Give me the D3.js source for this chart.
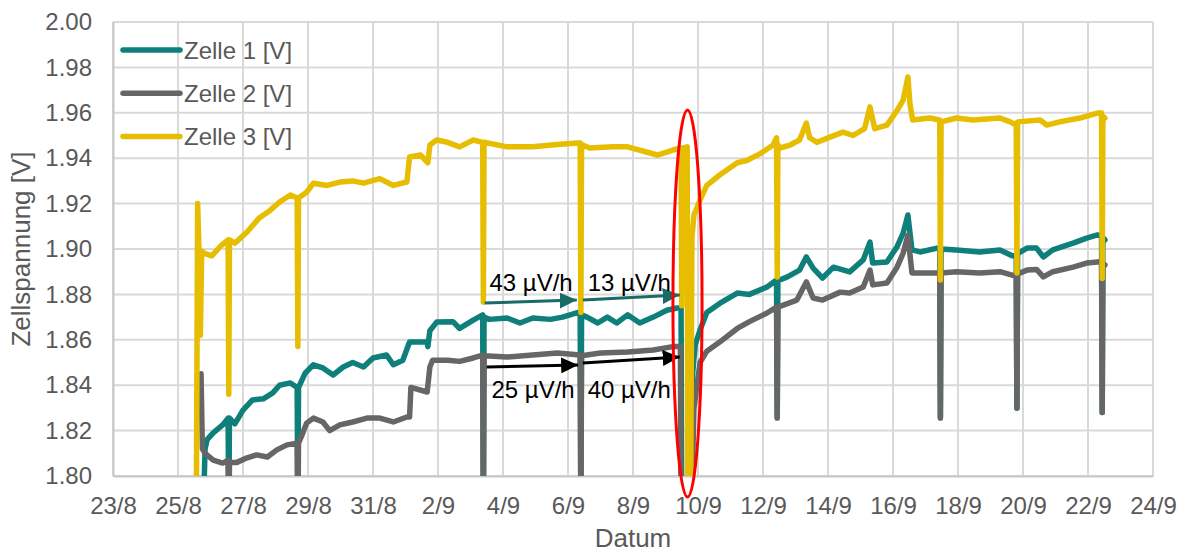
<!DOCTYPE html>
<html>
<head>
<meta charset="utf-8">
<script src="https://cdn.jsdelivr.net/npm/d3@7"></script>
<style>
  body { margin: 0; background: #fff; }
  text { font-family: "Liberation Sans", Arial, sans-serif; }
</style>
</head>
<body>
<svg id="chart" width="1194" height="553"></svg>
<script>
// ---- data: [timestamp "d/m HH:MM", cell voltage in V] ----
const zelle1 = [
  ["25/8 18:30",1.78],["25/8 20:00",1.812],["25/8 21:30",1.816],["26/8 02:00",1.819],["26/8 09:00",1.8225],
  ["26/8 13:00",1.8255],["26/8 13:30",1.78],["26/8 14:00",1.8255],["26/8 18:00",1.823],["27/8 00:00",1.829],
  ["27/8 07:00",1.8335],["27/8 15:00",1.834],["27/8 22:00",1.8366],["28/8 03:00",1.840],["28/8 11:00",1.841],
  ["28/8 16:00",1.839],["28/8 16:30",1.78],["28/8 17:00",1.839],["28/8 22:00",1.8454],["29/8 04:00",1.849],
  ["29/8 11:00",1.8476],["29/8 18:30",1.8445],["30/8 02:00",1.848],["30/8 09:00",1.850],["30/8 17:00",1.848],
  ["31/8 00:00",1.852],["31/8 10:00",1.8533],["31/8 15:00",1.849],["31/8 22:00",1.851],["1/9 03:00",1.859],
  ["1/9 16:00",1.859],["1/9 16:30",1.857],["1/9 18:00",1.864],["1/9 23:00",1.8678],["2/9 11:00",1.868],
  ["2/9 16:00",1.865],["3/9 02:00",1.8687],["3/9 09:00",1.871],["3/9 09:30",1.78],["3/9 10:00",1.870],
  ["3/9 14:00",1.869],["4/9 03:00",1.8696],["4/9 12:30",1.8674],["4/9 22:00",1.8696],["5/9 11:00",1.869],
  ["5/9 20:00",1.870],["6/9 07:00",1.872],["6/9 09:00",1.872],["6/9 09:30",1.78],["6/9 10:00",1.871],
  ["6/9 14:00",1.870],["6/9 22:00",1.8674],["7/9 05:00",1.870],["7/9 12:00",1.8674],["7/9 20:00",1.871],
  ["8/9 05:00",1.8674],["8/9 15:00",1.870],["9/9 01:00",1.873],["9/9 08:30",1.874],["9/9 11:30",1.874],
  ["9/9 12:00",1.78],["9/9 19:00",1.78],["9/9 20:00",1.845],["9/9 22:00",1.858],["10/9 01:30",1.8643],
  ["10/9 06:30",1.872],["10/9 16:00",1.876],["11/9 05:00",1.8806],["11/9 14:00",1.880],["12/9 03:00",1.8833],
  ["12/9 10:00",1.8863],["12/9 10:30",1.826],["12/9 11:00",1.886],["12/9 18:00",1.8877],["13/9 03:00",1.8907],
  ["13/9 08:00",1.8965],["13/9 13:00",1.8916],["13/9 20:00",1.8872],["14/9 04:00",1.892],["14/9 16:00",1.8899],
  ["15/9 02:00",1.8952],["15/9 07:00",1.903],["15/9 09:00",1.8938],["15/9 19:30",1.8943],["16/9 03:00",1.901],
  ["16/9 07:30",1.907],["16/9 11:00",1.915],["16/9 14:00",1.8996],["16/9 20:00",1.8987],["17/9 08:30",1.9004],
  ["17/9 10:30",1.900],["17/9 11:00",1.826],["17/9 11:30",1.900],["17/9 23:00",1.8996],["18/9 16:00",1.8987],
  ["19/9 07:00",1.8996],["19/9 16:00",1.897],["19/9 19:00",1.897],["19/9 19:30",1.830],["19/9 20:00",1.898],
  ["20/9 03:00",1.9004],["20/9 10:00",1.9004],["20/9 15:00",1.8965],["20/9 22:00",1.8996],["21/9 13:00",1.9026],
  ["21/9 23:00",1.9048],["22/9 07:00",1.9062],["22/9 10:00",1.906],["22/9 10:30",1.828],["22/9 11:00",1.905],
  ["22/9 12:30",1.904]
];

const zelle2 = [
  ["25/8 17:00",1.845],["25/8 18:00",1.812],["25/8 20:00",1.810],["26/8 02:00",1.807],["26/8 09:00",1.8057],
  ["26/8 13:00",1.807],["26/8 13:30",1.78],["26/8 14:00",1.806],["26/8 19:30",1.806],["27/8 03:00",1.808],
  ["27/8 10:00",1.8093],["27/8 18:00",1.8084],["28/8 01:00",1.8115],["28/8 08:30",1.8137],["28/8 16:00",1.8145],
  ["28/8 16:30",1.78],["28/8 17:00",1.8145],["28/8 19:30",1.818],["28/8 23:00",1.8233],["29/8 04:00",1.8255],
  ["29/8 11:00",1.8238],["29/8 16:00",1.820],["29/8 23:30",1.8225],["30/8 09:00",1.8238],["30/8 19:30",1.8255],
  ["31/8 05:00",1.8255],["31/8 15:00",1.8238],["1/9 01:00",1.826],["1/9 03:00",1.826],["1/9 04:00",1.839],
  ["1/9 16:00",1.837],["1/9 18:00",1.848],["1/9 20:00",1.851],["2/9 07:00",1.851],["2/9 16:00",1.8505],
  ["3/9 02:00",1.852],["3/9 09:00",1.8533],["3/9 09:30",1.78],["3/9 10:00",1.853],["4/9 03:00",1.8524],
  ["4/9 22:00",1.8533],["5/9 16:00",1.8542],["6/9 09:00",1.8533],["6/9 09:30",1.78],["6/9 10:00",1.853],
  ["7/9 00:00",1.8542],["7/9 20:00",1.8546],["8/9 15:00",1.8555],["9/9 05:30",1.857],["9/9 11:00",1.857],
  ["9/9 11:30",1.78],["9/9 19:00",1.78],["9/9 21:00",1.830],["10/9 01:30",1.850],["10/9 06:30",1.855],
  ["10/9 16:00",1.859],["11/9 05:00",1.865],["11/9 14:00",1.868],["12/9 03:00",1.8718],["12/9 10:00",1.8744],
  ["12/9 10:30",1.8255],["12/9 11:00",1.8744],["13/9 01:00",1.8775],["13/9 08:00",1.8855],["13/9 13:00",1.8784],
  ["13/9 20:00",1.8775],["14/9 09:00",1.881],["14/9 16:00",1.8806],["15/9 02:00",1.8833],["15/9 07:00",1.8907],
  ["15/9 09:00",1.8842],["15/9 19:30",1.885],["16/9 03:00",1.892],["16/9 07:30",1.8982],["16/9 11:00",1.906],
  ["16/9 14:00",1.8894],["17/9 01:00",1.8894],["17/9 10:30",1.8894],["17/9 11:00",1.8255],["17/9 11:30",1.8894],
  ["17/9 23:00",1.890],["18/9 16:00",1.8894],["19/9 07:00",1.890],["19/9 16:00",1.8885],["19/9 19:00",1.888],
  ["19/9 19:30",1.8298],["19/9 20:00",1.889],["20/9 03:00",1.8907],["20/9 10:00",1.891],["20/9 15:00",1.8877],
  ["20/9 22:00",1.890],["21/9 13:00",1.892],["21/9 23:00",1.8938],["22/9 07:00",1.8943],["22/9 10:00",1.8945],
  ["22/9 10:30",1.828],["22/9 11:00",1.8935],["22/9 12:30",1.893]
];

const zelle3 = [
  ["25/8 13:30",1.78],["25/8 14:30",1.92],["25/8 15:30",1.90],["25/8 16:30",1.862],["25/8 17:30",1.899],
  ["25/8 20:00",1.898],["26/8 01:00",1.897],["26/8 07:00",1.901],["26/8 13:00",1.904],["26/8 13:30",1.836],
  ["26/8 14:00",1.904],["26/8 18:00",1.9026],["27/8 03:00",1.9075],["27/8 12:00",1.9137],["27/8 20:00",1.917],
  ["28/8 03:00",1.9207],["28/8 11:00",1.9238],["28/8 16:00",1.9225],["28/8 16:30",1.857],["28/8 17:00",1.9225],
  ["28/8 23:00",1.925],["29/8 04:00",1.929],["29/8 14:00",1.928],["29/8 23:30",1.9295],["30/8 09:00",1.930],
  ["30/8 17:00",1.929],["31/8 05:00",1.931],["31/8 15:00",1.928],["1/9 01:00",1.9295],["1/9 03:00",1.9405],
  ["1/9 11:00",1.9414],["1/9 16:30",1.938],["1/9 18:00",1.9458],["1/9 23:00",1.948],["2/9 07:00",1.947],
  ["2/9 16:00",1.945],["3/9 02:00",1.948],["3/9 09:00",1.947],["3/9 09:30",1.8766],["3/9 10:00",1.947],
  ["4/9 03:00",1.945],["4/9 22:00",1.945],["5/9 16:00",1.946],["6/9 07:00",1.9467],["6/9 09:00",1.9467],
  ["6/9 09:30",1.872],["6/9 10:00",1.946],["6/9 16:00",1.9445],["7/9 09:00",1.945],["7/9 20:00",1.945],
  ["8/9 18:00",1.9414],["9/9 05:30",1.9436],["9/9 11:30",1.9445],["9/9 12:00",1.875],["9/9 13:00",1.9445],
  ["9/9 16:00",1.945],["9/9 16:30",1.78],["9/9 18:30",1.78],["9/9 19:30",1.905],["9/9 21:00",1.915],
  ["10/9 01:30",1.9216],["10/9 06:30",1.928],["10/9 16:00",1.9326],["11/9 05:00",1.938],["11/9 12:00",1.939],
  ["11/9 22:00",1.942],["12/9 07:30",1.9458],["12/9 10:00",1.949],["12/9 10:30",1.8877],["12/9 11:00",1.946],
  ["12/9 12:30",1.9445],["12/9 20:00",1.9458],["13/9 03:00",1.948],["13/9 08:00",1.9555],["13/9 10:30",1.949],
  ["13/9 16:00",1.947],["14/9 01:30",1.9493],["14/9 11:00",1.9515],["14/9 18:30",1.950],["15/9 03:00",1.953],
  ["15/9 07:00",1.9626],["15/9 10:30",1.953],["15/9 19:30",1.9546],["16/9 03:00",1.961],["16/9 07:30",1.9656],
  ["16/9 11:00",1.9758],["16/9 12:30",1.964],["16/9 14:30",1.9568],["17/9 03:00",1.9577],["17/9 10:30",1.9568],
  ["17/9 11:00",1.8863],["17/9 11:30",1.956],["17/9 23:00",1.9577],["18/9 11:00",1.9568],["19/9 07:00",1.9577],
  ["19/9 14:30",1.956],["19/9 19:00",1.9546],["19/9 19:30",1.8894],["19/9 20:00",1.956],["20/9 12:30",1.9568],
  ["20/9 17:30",1.9546],["21/9 03:00",1.956],["21/9 18:00",1.9577],["22/9 07:00",1.9599],["22/9 10:00",1.9599],
  ["22/9 10:30",1.887],["22/9 11:00",1.9585],["22/9 12:30",1.9577]
];

const seriesNames = ["Zelle 1 [V]", "Zelle 2 [V]", "Zelle 3 [V]"];
const seriesColors = ["#0e7f7a", "#666666", "#e6bd00"];

const xTickLabels = ["23/8","25/8","27/8","29/8","31/8","2/9","4/9","6/9","8/9","10/9",
                     "12/9","14/9","16/9","18/9","20/9","22/9","24/9"];
const yTickValues = [1.80,1.82,1.84,1.86,1.88,1.90,1.92,1.94,1.96,1.98,2.00];

// drift arrows with their rate labels
const driftArrows = [
  { from: ["3/9 10:30",1.8762], to: ["6/9 06:30",1.8775], color: "#1a6b67" },
  { from: ["6/9 11:00",1.8775], to: ["9/9 10:30",1.8797], color: "#1a6b67" },
  { from: ["3/9 12:00",1.8480], to: ["6/9 07:30",1.8489], color: "#000000" },
  { from: ["6/9 11:00",1.8498], to: ["9/9 10:30",1.8524], color: "#000000" }
];
const driftLabels = [
  { at: ["3/9 14:00",1.8815], text: "43 µV/h" },
  { at: ["6/9 14:30",1.8815], text: "13 µV/h" },
  { at: ["3/9 15:30",1.8344], text: "25 µV/h" },
  { at: ["6/9 14:30",1.8344], text: "40 µV/h" }
];
// highlighted interruption on 9/9 – 10/9
const highlight = { t0: "9/9 05:30", t1: "10/9 03:00", v0: 1.7907, v1: 1.9612 };

// ---- layout ----
const W = 1194, H = 553;
const plot = { left: 113, right: 1153, top: 22, bottom: 476 };
const textColor = "#595959";

const parse = d3.timeParse("%d/%m %H:%M");
const tickDate = s => parse(s + " 00:00");

const x = d3.scaleTime()
  .domain([tickDate("23/8"), tickDate("24/9")])
  .range([plot.left, plot.right]);
const y = d3.scaleLinear()
  .domain([1.80, 2.00])
  .range([plot.bottom, plot.top]);

const svg = d3.select("#chart").attr("width", W).attr("height", H);

// gridlines
const grid = svg.append("g");
grid.selectAll("line.h").data(yTickValues).join("line")
  .attr("x1", plot.left).attr("x2", plot.right)
  .attr("y1", d => y(d)).attr("y2", d => y(d))
  .attr("stroke", "#d9d9d9").attr("stroke-width", 2);
grid.selectAll("line.v").data(xTickLabels).join("line")
  .attr("x1", d => x(tickDate(d))).attr("x2", d => x(tickDate(d)))
  .attr("y1", plot.top).attr("y2", plot.bottom)
  .attr("stroke", "#d9d9d9").attr("stroke-width", 2);

// axes (lines + labels)
const xAxis = d3.axisBottom(x)
  .tickValues(xTickLabels.map(tickDate))
  .tickFormat(d3.timeFormat("%-d/%-m"))
  .tickSize(0).tickPadding(21);
const gx = svg.append("g").attr("transform", `translate(0,${plot.bottom})`).call(xAxis);
gx.select(".domain").attr("stroke", "#c8c8c8").attr("stroke-width", 2);
gx.selectAll("text").attr("font-size", 24).attr("fill", textColor)
  .attr("font-family", "Liberation Sans, Arial, sans-serif");

const yAxis = d3.axisLeft(y)
  .tickValues(yTickValues)
  .tickFormat(d3.format(".2f"))
  .tickSize(0).tickPadding(21);
const gy = svg.append("g").attr("transform", `translate(${plot.left},0)`).call(yAxis);
gy.select(".domain").attr("stroke", "#c8c8c8").attr("stroke-width", 2);
gy.selectAll("text").attr("font-size", 24).attr("fill", textColor)
  .attr("font-family", "Liberation Sans, Arial, sans-serif");

// axis titles
svg.append("text")
  .attr("x", (plot.left + plot.right) / 2).attr("y", 547)
  .attr("text-anchor", "middle").attr("font-size", 26).attr("fill", textColor)
  .text("Datum");
svg.append("text")
  .attr("transform", `translate(30,${(plot.top + plot.bottom) / 2}) rotate(-90)`)
  .attr("text-anchor", "middle").attr("font-size", 26).attr("fill", textColor)
  .text("Zellspannung [V]");

// series
svg.append("clipPath").attr("id", "plotClip")
  .append("rect")
  .attr("x", plot.left).attr("y", plot.top)
  .attr("width", plot.right - plot.left).attr("height", plot.bottom - plot.top);

const line = d3.line()
  .x(d => x(parse(d[0])))
  .y(d => y(d[1]));

const series = [zelle1, zelle2, zelle3];
const lines = svg.append("g").attr("clip-path", "url(#plotClip)");
lines.selectAll("path").data(series).join("path")
  .attr("d", line)
  .attr("fill", "none")
  .attr("stroke", (d, i) => seriesColors[i])
  .attr("stroke-width", 5.5)
  .attr("stroke-linejoin", "round")
  .attr("stroke-linecap", "round");

// legend
const legend = svg.append("g");
seriesNames.forEach((name, i) => {
  const ly = 50 + i * 43.3;
  legend.append("line")
    .attr("x1", 123).attr("x2", 180).attr("y1", ly).attr("y2", ly)
    .attr("stroke", seriesColors[i]).attr("stroke-width", 5.5).attr("stroke-linecap", "round");
  legend.append("text")
    .attr("x", 184).attr("y", ly).attr("dy", "0.36em")
    .attr("font-size", 24).attr("fill", textColor)
    .text(name);
});

// drift arrows
const defs = svg.append("defs");
const arrowColors = Array.from(new Set(driftArrows.map(a => a.color)));
arrowColors.forEach((c, i) => {
  defs.append("marker")
    .attr("id", "head" + i)
    .attr("markerUnits", "userSpaceOnUse")
    .attr("markerWidth", 18).attr("markerHeight", 16)
    .attr("refX", 17).attr("refY", 8)
    .attr("orient", "auto")
    .append("path")
    .attr("d", "M0,0 L17,8 L0,16 Z")
    .attr("fill", c);
});
svg.append("g").selectAll("line").data(driftArrows).join("line")
  .attr("x1", d => x(parse(d.from[0]))).attr("y1", d => y(d.from[1]))
  .attr("x2", d => x(parse(d.to[0]))).attr("y2", d => y(d.to[1]))
  .attr("stroke", d => d.color).attr("stroke-width", 3)
  .attr("marker-end", d => `url(#head${arrowColors.indexOf(d.color)})`);

svg.append("g").selectAll("text").data(driftLabels).join("text")
  .attr("x", d => x(parse(d.at[0]))).attr("y", d => y(d.at[1]))
  .attr("font-size", 24).attr("fill", "#000")
  .text(d => d.text);

// highlight ellipse
const ex0 = x(parse(highlight.t0)), ex1 = x(parse(highlight.t1));
const ey0 = y(highlight.v1), ey1 = y(highlight.v0);
svg.append("ellipse")
  .attr("cx", (ex0 + ex1) / 2).attr("cy", (ey0 + ey1) / 2)
  .attr("rx", (ex1 - ex0) / 2).attr("ry", (ey1 - ey0) / 2)
  .attr("fill", "none").attr("stroke", "#ff0000").attr("stroke-width", 3);
</script>
</body>
</html>
